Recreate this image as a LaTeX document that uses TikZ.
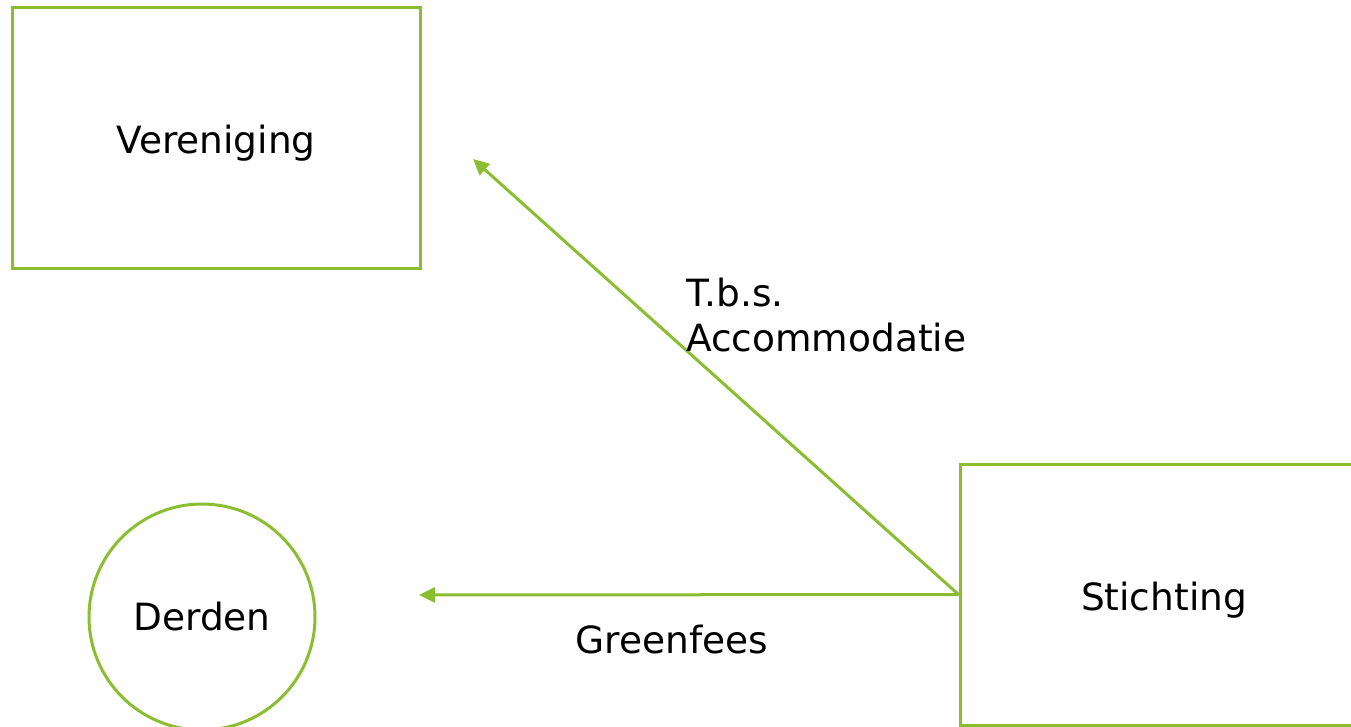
\documentclass[tikz,border=0pt]{standalone}
\usepackage{fontspec}
\setmainfont{DejaVu Sans}
\usetikzlibrary{arrows.meta}
\definecolor{lime}{RGB}{138,190,48}
\tikzset{
  bigfont/.style={font=\fontsize{37.5}{45}\selectfont},
  box/.style={draw=lime, line width=3pt, rectangle, minimum width=408pt, minimum height=261pt, inner sep=0pt, bigfont, text height=40pt, text depth=9pt},
  ring/.style={draw=lime, line width=3pt, circle, minimum size=226pt, inner sep=0pt, bigfont},
  conn/.style={draw=lime, line width=3pt, -{Triangle[length=16pt,width=15pt]}},
  lbl/.style={bigfont, inner sep=0pt, align=left}
}
\begin{document}
\begin{tikzpicture}[x=1pt,y=-1pt]
\useasboundingbox (0,0) rectangle (1351,726);
\clip (0,0) rectangle (1351,726);
\node[box] (ver) at (216,137.5) {Vereniging};
\node[box] (sti) at (1164,594.5) {Stichting};
\node[ring] (der) at (202,617) {Derden};
\coordinate (tipA) at (473,159);
\coordinate (tipB) at (419,595);
\draw[conn] (sti.west) -- (tipA);
\draw[conn] (sti.west) -- (tipB);
\node[lbl, anchor=west] (tbs) at (686,315) {T.b.s.\\Accommodatie};
\node[lbl] (gf) at (672,640) {Greenfees};
\end{tikzpicture}
\end{document}
